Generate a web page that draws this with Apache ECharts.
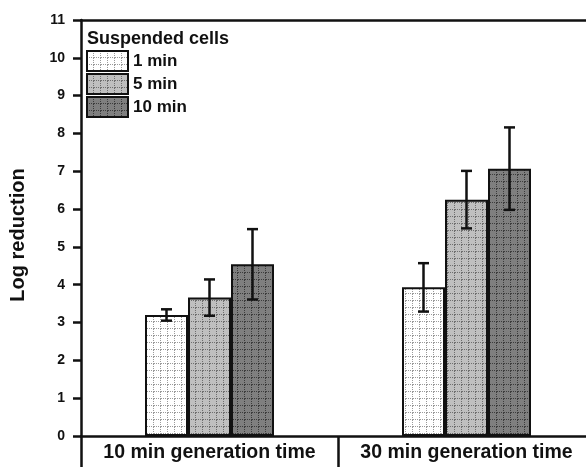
<!DOCTYPE html>
<html>
<head>
<meta charset="utf-8">
<script src="https://cdn.jsdelivr.net/npm/echarts@6/dist/echarts.min.js"></script>
<style>
  html, body { margin: 0; padding: 0; background: #fff; }
  #chart { width: 586px; height: 467px; }
</style>
</head>
<body>
<div id="chart"></div>
<script>
// Log reduction of suspended cells by exposure time
const categories = ['10 min generation time', '30 min generation time'];
const seriesNames = ['1 min', '5 min', '10 min'];
const means1 = [3.20, 3.93];
const means5 = [3.66, 6.25];
const means10 = [4.54, 7.07];
const err1 = [0.15, 0.64];
const err5 = [0.48, 0.76];
const err10 = [0.93, 1.09];
const yTicks = [0, 1, 2, 3, 4, 5, 6, 7, 8, 9, 10, 11];

const FONT = 'Liberation Sans, Arial, sans-serif';

// Fill with a dotted grid texture
function gridPattern(bg, line) {
  const size = 7;
  const c = document.createElement('canvas');
  c.width = size; c.height = size;
  const ctx = c.getContext('2d');
  ctx.fillStyle = bg;
  ctx.fillRect(0, 0, size, size);
  ctx.fillStyle = line;
  for (let i = 0; i < size; i += 2) {
    ctx.fillRect(size - 1, i, 1, 1);
    ctx.fillRect(i, size - 1, 1, 1);
  }
  return { image: c, repeat: 'repeat' };
}

const fills = [
  gridPattern('#ffffff', '#9a9a9a'),
  gridPattern('#bfbfbf', '#6e6e6e'),
  gridPattern('#7f7f7f', '#3c3c3c')
];
const meanSets = [means1, means5, means10];
const errSets = [err1, err5, err10];

const barWidth = 43;

const barSeries = seriesNames.map((name, i) => ({
  name: name,
  type: 'bar',
  data: meanSets[i],
  barWidth: barWidth,
  barGap: '0%',
  itemStyle: { color: fills[i], borderColor: '#111', borderWidth: 2 },
  emphasis: { disabled: true },
  z: 2
}));

// Error bars offset to sit on the matching bar of each group
const errorSeries = seriesNames.map((name, i) => ({
  type: 'custom',
  name: name + ' error',
  data: categories.map((c, k) => [k, meanSets[i][k] - errSets[i][k], meanSets[i][k] + errSets[i][k]]),
  renderItem: function (params, api) {
    const k = api.value(0);
    const lo = api.coord([k, api.value(1)]);
    const hi = api.coord([k, api.value(2)]);
    const x = lo[0] + (i - 1) * barWidth;
    const cap = 5.5;
    const style = { stroke: '#111', lineWidth: 2.5 };
    return {
      type: 'group',
      children: [
        { type: 'line', shape: { x1: x, y1: lo[1], x2: x, y2: hi[1] }, style: style },
        { type: 'line', shape: { x1: x - cap, y1: lo[1], x2: x + cap, y2: lo[1] }, style: style },
        { type: 'line', shape: { x1: x - cap, y1: hi[1], x2: x + cap, y2: hi[1] }, style: style }
      ]
    };
  },
  encode: { x: 0, y: [1, 2] },
  z: 5
}));

const chart = echarts.init(document.getElementById('chart'), null, { renderer: 'canvas' });
chart.setOption({
  animation: false,
  backgroundColor: '#ffffff',
  grid: { left: 81, width: 514, top: 20, height: 416, outerBoundsMode: 'none', containLabel: false },
  title: {
    text: 'Suspended cells',
    left: 82, top: 25,
    textStyle: { fontFamily: FONT, fontWeight: 'bold', fontSize: 18, color: '#111' }
  },
  legend: {
    data: seriesNames,
    orient: 'vertical',
    left: 86, top: 50,
    padding: 0,
    icon: 'rect',
    itemWidth: 41, itemHeight: 20, itemGap: 1,
    selectedMode: false,
    textStyle: { fontFamily: FONT, fontWeight: 'bold', fontSize: 17, color: '#111', lineHeight: 20 }
  },
  graphic: [{
    type: 'text',
    x: 18, y: 235,
    rotation: Math.PI / 2,
    style: {
      text: 'Log reduction',
      fontFamily: FONT, fontWeight: 'bold', fontSize: 20, fill: '#111',
      align: 'center', verticalAlign: 'middle'
    }
  }],
  xAxis: [
    {
      type: 'category',
      data: categories,
      position: 'bottom',
      axisLine: { show: true, lineStyle: { color: '#111', width: 2.5 } },
      axisTick: { show: true, interval: 0, length: 31, lineStyle: { color: '#111', width: 2.5 } },
      axisLabel: { interval: 0, hideOverlap: false, fontFamily: FONT, fontWeight: 'bold', fontSize: 19.5, color: '#111', margin: 7 }
    },
    {
      type: 'category',
      data: categories,
      position: 'top',
      axisLine: { show: true, lineStyle: { color: '#111', width: 2.5 } },
      axisTick: { show: false },
      axisLabel: { show: false }
    }
  ],
  yAxis: {
    type: 'value',
    min: 0, max: 11, interval: 1,
    axisLine: { show: true, lineStyle: { color: '#111', width: 2.5 } },
    axisTick: { show: true, length: 8, lineStyle: { color: '#111', width: 2.5 } },
    axisLabel: {
      fontFamily: FONT, fontWeight: 'bold', fontSize: 14, color: '#111', margin: 16,
      formatter: function (v) { return yTicks.indexOf(v) >= 0 ? String(v) : ''; }
    },
    splitLine: { show: false }
  },
  series: barSeries.concat(errorSeries)
});
</script>
</body>
</html>
